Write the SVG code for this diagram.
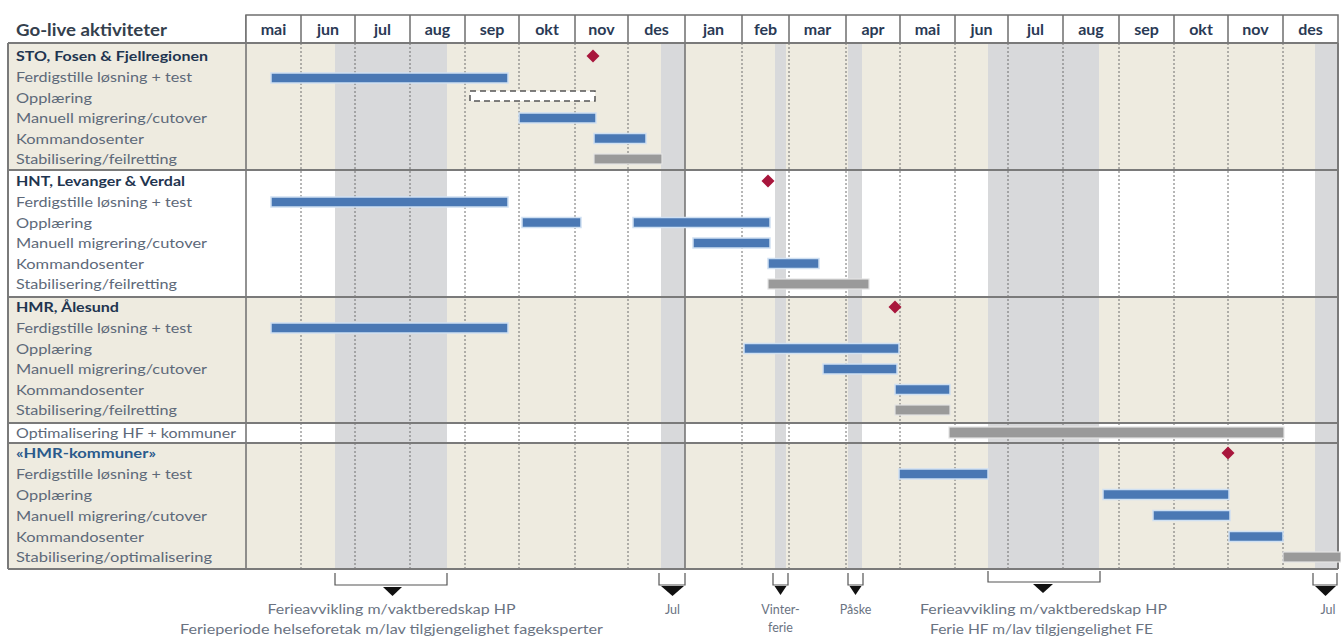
<svg xmlns="http://www.w3.org/2000/svg" width="1341" height="640" viewBox="0 0 1341 640">
<style>
text{font-family:Lato,"Liberation Sans",Arial,sans-serif}
.lbl{font-size:14px;fill:#5d6979}
.sec{font-size:14px;font-weight:bold;fill:#1f3550}
.mon{font-size:16px;font-weight:bold;fill:#2a3a55;text-anchor:middle}
.ann{font-size:13.5px;fill:#6a7382;text-anchor:middle}
.sm{font-size:12.5px;fill:#6a7382;text-anchor:middle}
.beige{fill:#eeebe0}
.white{fill:#ffffff}
.band{fill:#d8d9db}
.dot{stroke:#6f6f6f;stroke-width:1;stroke-dasharray:2 2;fill:none}
.solid{stroke:#6f6f6f;stroke-width:1.5;fill:none}
.frame{stroke:#7a7a7a;stroke-width:2;fill:none}
.bar{fill:#4a78b4;stroke:#cfe0f2;stroke-width:1.5}
.gbar{fill:#9a9a9a;stroke:#e3e3e3;stroke-width:1.2}
.ms{fill:#a8163c}
.brk{stroke:#555;stroke-width:1.2;fill:none}
.tri{fill:#111}
</style>

<g id="backgrounds">
  <rect class="beige" x="8" y="43" width="1330" height="127"/>
  <rect class="white" x="8" y="170" width="1330" height="127"/>
  <rect class="beige" x="8" y="297" width="1330" height="126"/>
  <rect class="white" x="8" y="423" width="1330" height="20"/>
  <rect class="beige" x="8" y="443" width="1330" height="126"/>
  <rect class="band" x="335" y="43" width="112" height="526"/>
  <rect class="band" x="661" y="43" width="24" height="526"/>
  <rect class="band" x="775" y="43" width="11" height="526"/>
  <rect class="band" x="848" y="43" width="14" height="526"/>
  <rect class="band" x="988" y="43" width="111" height="526"/>
  <rect class="band" x="1315" y="43" width="23" height="526"/>
</g>

<g id="grid">
  <path class="dot" d="M301 43V569M355 43V569M410 43V569M465 43V569M519 43V569M575 43V569M628 43V569M742 43V569M789 43V569M846 43V569M900 43V569M955 43V569M1008 43V569M1063 43V569M1119 43V569M1174 43V569M1228 43V569M1283 43V569"/>
  <path class="solid" d="M246 15V569M685 15V569"/>
  <rect x="246" y="15" width="1092" height="28" fill="#ffffff" stroke="#6f6f6f" stroke-width="1.5"/>
  <path class="solid" d="M301 15V43M355 15V43M410 15V43M465 15V43M519 15V43M575 15V43M628 15V43M685 15V43M742 15V43M789 15V43M846 15V43M900 15V43M955 15V43M1008 15V43M1063 15V43M1119 15V43M1174 15V43M1228 15V43M1283 15V43"/>
  <path class="frame" d="M8 43H1338M8 170H1338M8 297H1338M8 423H1338M8 443H1338M8 569H1338M8 43V569M1338 43V569"/>
</g>

<g id="header">
  <text x="16" y="36" font-size="17" font-weight="bold" fill="#34404d" textLength="151" lengthAdjust="spacingAndGlyphs">Go-live aktiviteter</text>
  <text class="mon" x="273.5" y="35">mai</text>
  <text class="mon" x="328" y="35">jun</text>
  <text class="mon" x="382.5" y="35">jul</text>
  <text class="mon" x="437.5" y="35">aug</text>
  <text class="mon" x="492" y="35">sep</text>
  <text class="mon" x="547" y="35">okt</text>
  <text class="mon" x="601.5" y="35">nov</text>
  <text class="mon" x="656.5" y="35">des</text>
  <text class="mon" x="713.5" y="35">jan</text>
  <text class="mon" x="765.5" y="35">feb</text>
  <text class="mon" x="817.5" y="35">mar</text>
  <text class="mon" x="873" y="35">apr</text>
  <text class="mon" x="927.5" y="35">mai</text>
  <text class="mon" x="981.5" y="35">jun</text>
  <text class="mon" x="1035.5" y="35">jul</text>
  <text class="mon" x="1091" y="35">aug</text>
  <text class="mon" x="1146.5" y="35">sep</text>
  <text class="mon" x="1201" y="35">okt</text>
  <text class="mon" x="1255.5" y="35">nov</text>
  <text class="mon" x="1310.5" y="35">des</text>
</g>

<g id="section-sto">
  <text class="sec" x="16" y="61" textLength="192" lengthAdjust="spacingAndGlyphs">STO, Fosen &amp; Fjellregionen</text>
  <text class="lbl" x="16" y="82" textLength="176" lengthAdjust="spacingAndGlyphs">Ferdigstille løsning + test</text>
  <text class="lbl" x="16" y="102.5" textLength="76" lengthAdjust="spacingAndGlyphs">Opplæring</text>
  <text class="lbl" x="16" y="123" textLength="191" lengthAdjust="spacingAndGlyphs">Manuell migrering/cutover</text>
  <text class="lbl" x="16" y="143.5" textLength="128" lengthAdjust="spacingAndGlyphs">Kommandosenter</text>
  <text class="lbl" x="16" y="164" textLength="161" lengthAdjust="spacingAndGlyphs">Stabilisering/feilretting</text>
  <polygon class="ms" points="593,49.5 599.5,56 593,62.5 586.5,56"/>
  <rect class="bar" x="271" y="73" width="237" height="10"/>
  <rect x="470" y="91" width="125" height="10" fill="#ffffff" stroke="#555" stroke-width="1.5" stroke-dasharray="6 4"/>
  <rect class="bar" x="519" y="113" width="77" height="10"/>
  <rect class="bar" x="594" y="133.5" width="52" height="10"/>
  <rect class="gbar" x="594" y="154" width="68" height="10"/>
</g>

<g id="section-hnt">
  <text class="sec" x="16" y="186" textLength="169" lengthAdjust="spacingAndGlyphs">HNT, Levanger &amp; Verdal</text>
  <text class="lbl" x="16" y="207" textLength="176" lengthAdjust="spacingAndGlyphs">Ferdigstille løsning + test</text>
  <text class="lbl" x="16" y="227.5" textLength="76" lengthAdjust="spacingAndGlyphs">Opplæring</text>
  <text class="lbl" x="16" y="248" textLength="191" lengthAdjust="spacingAndGlyphs">Manuell migrering/cutover</text>
  <text class="lbl" x="16" y="268.5" textLength="128" lengthAdjust="spacingAndGlyphs">Kommandosenter</text>
  <text class="lbl" x="16" y="289" textLength="161" lengthAdjust="spacingAndGlyphs">Stabilisering/feilretting</text>
  <polygon class="ms" points="768,174.5 774.5,181 768,187.5 761.5,181"/>
  <rect class="bar" x="271" y="197" width="237" height="10"/>
  <rect class="bar" x="522" y="217.5" width="59" height="10"/>
  <rect class="bar" x="633" y="217.5" width="137" height="10"/>
  <rect class="bar" x="693" y="238" width="77" height="10"/>
  <rect class="bar" x="768" y="258.5" width="51" height="10"/>
  <rect class="gbar" x="768" y="279" width="101" height="10"/>
</g>

<g id="section-hmr">
  <text class="sec" x="16" y="312" textLength="103" lengthAdjust="spacingAndGlyphs">HMR, Ålesund</text>
  <text class="lbl" x="16" y="333" textLength="176" lengthAdjust="spacingAndGlyphs">Ferdigstille løsning + test</text>
  <text class="lbl" x="16" y="353.5" textLength="76" lengthAdjust="spacingAndGlyphs">Opplæring</text>
  <text class="lbl" x="16" y="374" textLength="191" lengthAdjust="spacingAndGlyphs">Manuell migrering/cutover</text>
  <text class="lbl" x="16" y="394.5" textLength="128" lengthAdjust="spacingAndGlyphs">Kommandosenter</text>
  <text class="lbl" x="16" y="415" textLength="161" lengthAdjust="spacingAndGlyphs">Stabilisering/feilretting</text>
  <polygon class="ms" points="895,300.5 901.5,307 895,313.5 888.5,307"/>
  <rect class="bar" x="271" y="323" width="237" height="10"/>
  <rect class="bar" x="744" y="343.5" width="155" height="10"/>
  <rect class="bar" x="823" y="364" width="74" height="10"/>
  <rect class="bar" x="895" y="384.5" width="55" height="10"/>
  <rect class="gbar" x="895" y="405" width="55" height="10"/>
</g>

<g id="row-optimalisering">
  <text class="lbl" x="16" y="437.5" textLength="220" lengthAdjust="spacingAndGlyphs">Optimalisering HF + kommuner</text>
  <rect class="gbar" x="949" y="427" width="335" height="11"/>
</g>

<g id="section-hmr-kommuner">
  <text class="sec" x="16" y="458" style="fill:#2a5a8c" textLength="140" lengthAdjust="spacingAndGlyphs">«HMR-kommuner»</text>
  <text class="lbl" x="16" y="479" textLength="176" lengthAdjust="spacingAndGlyphs">Ferdigstille løsning + test</text>
  <text class="lbl" x="16" y="499.5" textLength="76" lengthAdjust="spacingAndGlyphs">Opplæring</text>
  <text class="lbl" x="16" y="520.5" textLength="191" lengthAdjust="spacingAndGlyphs">Manuell migrering/cutover</text>
  <text class="lbl" x="16" y="541.5" textLength="128" lengthAdjust="spacingAndGlyphs">Kommandosenter</text>
  <text class="lbl" x="16" y="562" textLength="196" lengthAdjust="spacingAndGlyphs">Stabilisering/optimalisering</text>
  <polygon class="ms" points="1228,446.5 1234.5,453 1228,459.5 1221.5,453"/>
  <rect class="bar" x="899" y="469" width="89" height="10"/>
  <rect class="bar" x="1103" y="489.5" width="126" height="10"/>
  <rect class="bar" x="1153" y="510.5" width="77" height="10"/>
  <rect class="bar" x="1229" y="531.5" width="54" height="10"/>
  <rect class="gbar" x="1283" y="552" width="58" height="10"/>
</g>

<g id="annotations">
  <path class="brk" d="M335 573V585H447V573"/>
  <polygon class="tri" points="383,587 402,587 392.5,596"/>
  <text class="ann" x="391.5" y="614" textLength="248" lengthAdjust="spacingAndGlyphs">Ferieavvikling m/vaktberedskap HP</text>
  <text class="ann" x="391.5" y="634" textLength="423" lengthAdjust="spacingAndGlyphs">Ferieperiode helseforetak m/lav tilgjengelighet fageksperter</text>

  <path class="brk" d="M659 573V585H685V573"/>
  <polygon class="tri" points="661,586 684,586 672.5,596"/>
  <text class="sm" x="672.5" y="614">Jul</text>

  <path class="brk" d="M773 573V585H788V573"/>
  <polygon class="tri" points="774.5,586 786.5,586 780.5,595"/>
  <text class="sm" x="780.5" y="614">Vinter-</text>
  <text class="sm" x="780.5" y="632">ferie</text>

  <path class="brk" d="M848 573V585H863V573"/>
  <polygon class="tri" points="849.5,586 861.5,586 855.5,595"/>
  <text class="sm" x="855.5" y="614">Påske</text>

  <path class="brk" d="M988 571V582H1100V571"/>
  <polygon class="tri" points="1033,584 1053,584 1043,593"/>
  <text class="ann" x="1043.5" y="614" textLength="247" lengthAdjust="spacingAndGlyphs">Ferieavvikling m/vaktberedskap HP</text>
  <text class="ann" x="1041.5" y="634" textLength="223" lengthAdjust="spacingAndGlyphs">Ferie HF  m/lav tilgjengelighet FE</text>

  <path class="brk" d="M1313 573V585H1337V573"/>
  <polygon class="tri" points="1315,586 1336,586 1325.5,596"/>
  <text class="sm" x="1328" y="614">Jul</text>
</g>
</svg>
